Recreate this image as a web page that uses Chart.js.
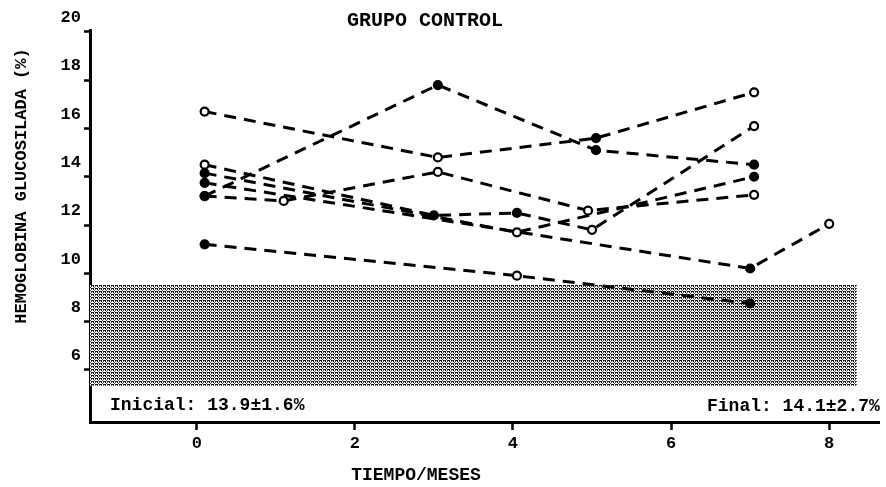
<!DOCTYPE html>
<html>
<head>
<meta charset="utf-8">
<script src="https://cdn.jsdelivr.net/npm/chart.js@4.4.1/dist/chart.umd.min.js"></script>
<style>
  html, body { margin: 0; padding: 0; background: #fff; }
  #grafico { display: block; }
</style>
</head>
<body>
<canvas id="grafico" width="886" height="487"></canvas>
<script>
// Hemoglobina glucosilada (%) por paciente, grupo control
var mesesA = [0.1, 3.05, 5.05, 7.05];
var hbA    = [16.7, 14.8, 15.6, 17.5];
var mesesB = [0.1, 3.05, 5.05, 7.05];
var hbB    = [13.2, 17.8, 15.1, 14.5];
var mesesC = [0.1, 3.0, 4.05, 5.0, 7.05];
var hbC    = [14.5, 12.4, 12.5, 11.8, 16.1];
var mesesD = [0.1, 1.1, 3.05, 4.95, 7.05];
var hbD    = [13.2, 13.0, 14.2, 12.6, 13.25];
var mesesE = [0.1, 4.05, 7.05];
var hbE    = [14.15, 11.7, 14.0];
var mesesF = [0.1, 7.0, 8.0];
var hbF    = [13.75, 10.2, 12.05];
var mesesG = [0.1, 4.05, 7.0];
var hbG    = [11.2, 9.9, 8.75];

// rango normal (zona sombreada)
var rangoNormal = [5.34, 9.52];
var rangoMeses  = [-1.35, 8.35];

var ticksY = [6, 8, 10, 12, 14, 16, 18, 20];
var ticksX = [0, 2, 4, 6, 8];

// marcadores: 1 = relleno, 0 = abierto
var series = [
    { meses: mesesA, hb: hbA, relleno: [0, 0, 1, 0] },
    { meses: mesesB, hb: hbB, relleno: [1, 1, 1, 1] },
    { meses: mesesC, hb: hbC, relleno: [0, 1, 1, 0, 0] },
    { meses: mesesD, hb: hbD, relleno: [1, 0, 0, 0, 0] },
    { meses: mesesE, hb: hbE, relleno: [1, 0, 1] },
    { meses: mesesF, hb: hbF, relleno: [1, 1, 0] },
    { meses: mesesG, hb: hbG, relleno: [1, 0, 1] }
];

// textura punteada de la zona normal
function patron() {
    var c = document.createElement('canvas');
    c.width = 4; c.height = 3;
    var g = c.getContext('2d');
    g.fillStyle = '#fff';
    g.fillRect(0, 0, 4, 3);
    g.fillStyle = '#111';
    g.fillRect(0, 0, 2, 1);
    g.fillRect(3, 0, 1, 1);
    g.fillRect(1, 1, 1, 1);
    g.fillStyle = '#555';
    g.fillRect(3, 1, 1, 1);
    g.fillRect(2, 2, 1, 1);
    return g.createPattern(c, 'repeat');
}

var datasets = series.map(function (s) {
    return {
        data: s.meses.map(function (m, i) { return { x: m, y: s.hb[i] }; }),
        borderColor: '#000',
        borderWidth: 3,
        borderDash: [12, 8],
        fill: false,
        tension: 0,
        pointRadius: 4,
        pointBorderWidth: 2.2,
        pointBorderColor: '#000',
        pointBackgroundColor: s.relleno.map(function (r) { return r ? '#000' : '#fff'; }),
        order: 1
    };
});

datasets.push({
    data: rangoMeses.map(function (m) { return { x: m, y: rangoNormal[1] }; }),
    fill: { value: rangoNormal[0] },
    backgroundColor: patron(),
    borderWidth: 0,
    pointRadius: 0,
    order: 10
});

var fuente = 'Liberation Mono';

// textos del grafico
var textos = {
    id: 'textos',
    afterDraw: function (chart) {
        var c = chart.ctx;
        var area = chart.chartArea;
        c.save();
        c.fillStyle = '#000';
        c.textBaseline = 'middle';

        c.font = 'bold 20px "' + fuente + '"';
        c.textAlign = 'center';
        c.fillText('GRUPO CONTROL', 425, 21);

        c.font = 'bold 18px "' + fuente + '"';
        c.fillText('TIEMPO/MESES', 416, 475);

        c.textAlign = 'left';
        c.fillText('Inicial: 13.9\u00b11.6%', area.left + 20, 405);
        c.textAlign = 'right';
        c.fillText('Final: 14.1\u00b12.7%', area.right, 406);

        c.translate(22, 186);
        c.rotate(-Math.PI / 2);
        c.textAlign = 'center';
        c.font = 'bold 17px "' + fuente + '"';
        c.fillText('HEMOGLOBINA GLUCOSILADA (%)', 0, 0);
        c.restore();
    }
};

var chartOptions = {
    responsive: false,
    animation: false,
    devicePixelRatio: 1,
    layout: { padding: { top: 30, right: 3, left: 0, bottom: 0 } },
    plugins: {
        legend: { display: false },
        tooltip: { enabled: false }
    },
    scales: {
        x: {
            type: 'linear',
            min: -1.35,
            max: 8.64,
            grid: { drawOnChartArea: false, drawTicks: true, tickLength: 8, tickWidth: 2.5, tickColor: '#000' },
            border: { color: '#000', width: 3 },
            ticks: { color: '#000', font: { family: fuente, size: 17, weight: 'bold' }, padding: 4 },
            afterBuildTicks: function (s) { s.ticks = ticksX.map(function (v) { return { value: v }; }); },
            afterFit: function (s) { s.height = 65; }
        },
        y: {
            min: 3.84,
            max: 20.08,
            grid: { drawOnChartArea: false, drawTicks: true, tickLength: 6, tickWidth: 2.5, tickColor: '#000' },
            border: { color: '#000', width: 3 },
            ticks: { color: '#000', font: { family: fuente, size: 17, weight: 'bold' }, padding: 3, labelOffset: -14 },
            afterBuildTicks: function (s) { s.ticks = ticksY.map(function (v) { return { value: v }; }); },
            afterFit: function (s) { s.width = 90; }
        }
    }
};

var grafico = new Chart(document.getElementById('grafico'), {
    type: 'line',
    data: { datasets: datasets },
    options: chartOptions,
    plugins: [textos]
});
</script>
</body>
</html>
